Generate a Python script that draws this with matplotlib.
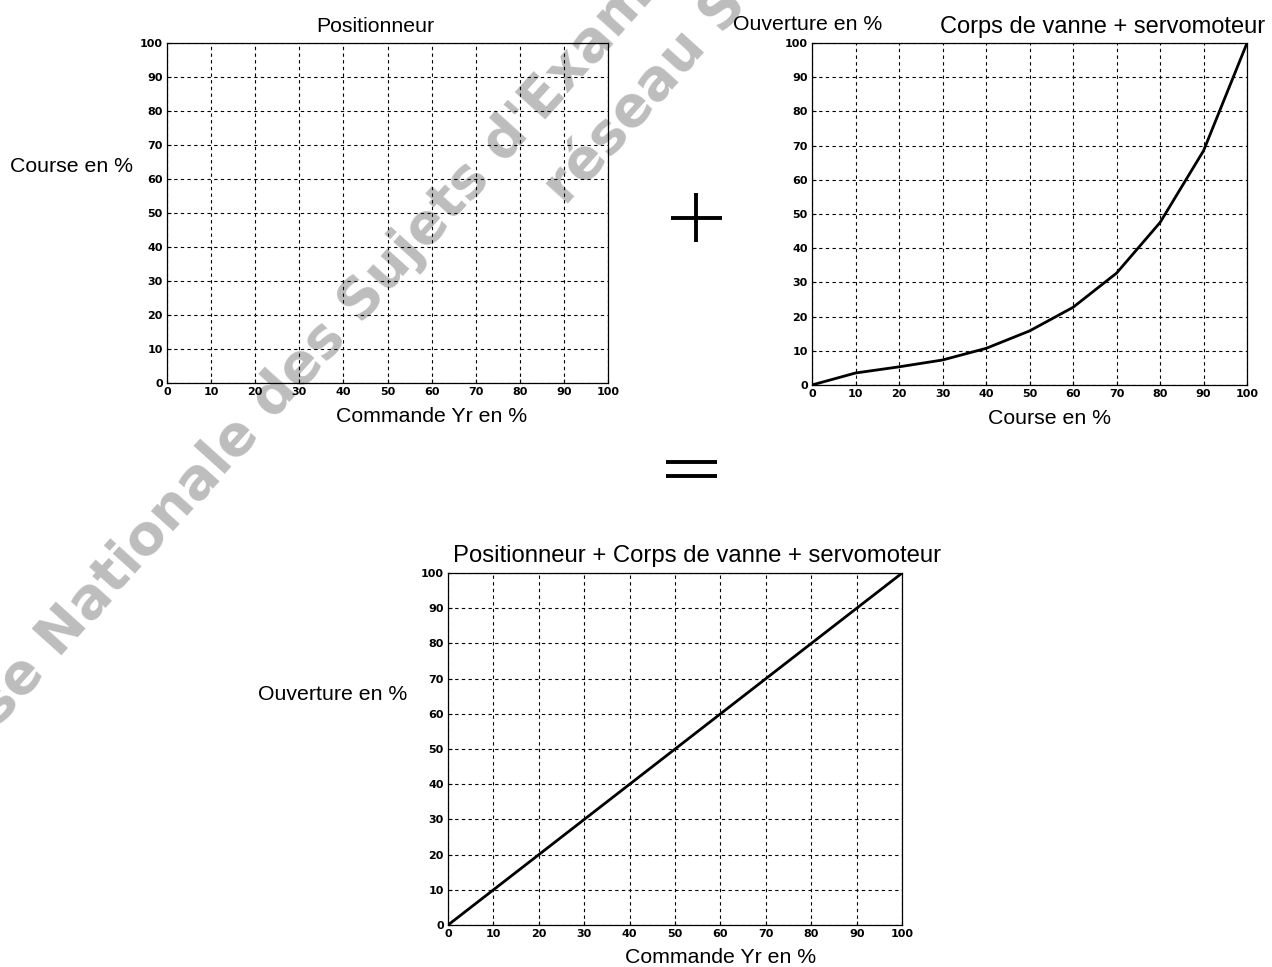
import matplotlib.pyplot as plt
from matplotlib.lines import Line2D

# valeurs
course = [0, 10, 20, 30, 40, 50, 60, 70, 80, 90, 100]
ouverture = [0, 3.5, 5.3, 7.3, 10.7, 15.8, 22.7, 32.7, 47.5, 68.5, 100]
commande = [0, 100]
ouverture_lin = [0, 100]
ticks = [0, 10, 20, 30, 40, 50, 60, 70, 80, 90, 100]

plt.rcParams['font.family'] = ['Liberation Sans', 'DejaVu Sans']

W, H = 1272, 967
fig = plt.figure(figsize=(W / 100, H / 100), dpi=100)


def grille(ax):
    ax.set_xlim(0, 100)
    ax.set_ylim(0, 100)
    ax.set_xticks(ticks)
    ax.set_yticks(ticks)
    ax.set_facecolor('none')
    ax.tick_params(direction='in', length=3, width=0.8, labelsize=8, pad=3)
    for lab in ax.get_xticklabels() + ax.get_yticklabels():
        lab.set_fontweight('bold')
        lab.set_family('DejaVu Sans')
    ax.grid(True, color='black', linestyle=(0, (3, 3)), linewidth=0.8)
    for s in ax.spines.values():
        s.set_linewidth(0.9)


# Positionneur (vide)
ax1 = fig.add_axes([0.1313, 0.604, 0.3467, 0.3516])
grille(ax1)
ax1.set_title('Positionneur', fontsize=15.3, pad=8, x=0.472)
ax1.set_xlabel('Commande Yr en %', fontsize=15.3, labelpad=7, x=0.60, ha='center')
fig.text(10 / W, 1 - 167 / H, 'Course en %', fontsize=15.3, va='center')

# Corps de vanne + servomoteur
ax2 = fig.add_axes([0.6384, 0.6019, 0.342, 0.3537])
grille(ax2)
ax2.plot(course, ouverture, color='black', linewidth=2)
ax2.set_xlabel('Course en %', fontsize=15.3, labelpad=7, x=0.545, ha='center')
fig.text(733 / W, 1 - 24 / H, 'Ouverture en %', fontsize=15.3, va='center')
fig.text(940 / W, 1 - 27 / H, 'Corps de vanne + servomoteur', fontsize=17, va='center')

# Positionneur + Corps de vanne + servomoteur
ax3 = fig.add_axes([0.3522, 0.0434, 0.357, 0.364])
grille(ax3)
ax3.plot(commande, ouverture_lin, color='black', linewidth=2)
ax3.set_title('Positionneur + Corps de vanne + servomoteur', fontsize=17.2, pad=8, x=0.548)
ax3.set_xlabel('Commande Yr en %', fontsize=15.3, labelpad=6, x=0.60, ha='center')
fig.text(258 / W, 1 - 694 / H, 'Ouverture en %', fontsize=15.3, va='center')

# signes + et =
signes = [((671, 722), (218, 218)), ((696, 696), (193, 242)),
          ((666, 717), (462, 462)), ((666, 717), (476, 476))]
for xs, ys in signes:
    fig.add_artist(Line2D([x / W for x in xs], [1 - y / H for y in ys],
                          transform=fig.transFigure, color='black',
                          linewidth=2.8, solid_capstyle='butt'))

# filigrane
fig.text(326 / W, 1 - 340 / H, "Base Nationale des Sujets d'Examens", fontsize=40,
         color='#bdbdbd', rotation=48, ha='center', va='center',
         rotation_mode='anchor', fontweight='bold',
         family=['DejaVu Sans'], zorder=-1)
fig.text(714 / W, 1 - 19 / H, "réseau SCEREN", fontsize=40,
         color='#bdbdbd', rotation=48, ha='center', va='center',
         rotation_mode='anchor', fontweight='bold',
         family=['DejaVu Sans'], zorder=-1)

fig.savefig('out.png', dpi=100)
